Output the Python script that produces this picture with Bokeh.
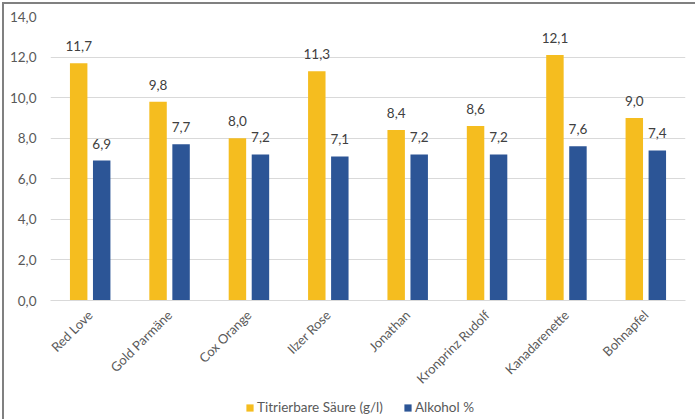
from bokeh.plotting import figure
from bokeh.layouts import column
from bokeh.models import ColumnDataSource, FactorRange, FixedTicker, Legend, LegendItem, Range1d
from bokeh.transform import dodge
from bokeh.core.properties import value
from bokeh.embed import file_html
from bokeh.resources import INLINE
import math

categories = ["Red Love", "Gold Parmäne", "Cox Orange", "Ilzer Rose", "Jonathan",
              "Kronprinz Rudolf", "Kanadarenette", "Bohnapfel"]
saeure = [11.7, 9.8, 8.0, 11.3, 8.4, 8.6, 12.1, 9.0]
alkohol = [6.9, 7.7, 7.2, 7.1, 7.2, 7.2, 7.6, 7.4]
y_ticks = [0, 2, 4, 6, 8, 10, 12, 14]
series_names = ["Titrierbare Säure (g/l)", "Alkohol %"]

def fmt(v):
    return f"{v:.1f}".replace(".", ",")

src = ColumnDataSource(dict(
    cat=categories, s=saeure, a=alkohol,
    sl=[fmt(v) for v in saeure], al=[fmt(v) for v in alkohol],
))

FONT = "Lato"
YELLOW = "#F5BD1F"
BLUE = "#2C5596"

p = figure(x_range=FactorRange(*categories), y_range=(0, 14),
           width=691, height=392, output_backend="svg", toolbar_location=None,
           min_border_left=46, min_border_right=10, min_border_top=12, min_border_bottom=96)
p.outline_line_color = None
p.background_fill_color = "white"
p.border_fill_color = "white"

r1 = p.vbar(x=dodge("cat", -0.145, range=p.x_range), top="s", width=0.22, source=src,
            fill_color=YELLOW, line_color=None)
r2 = p.vbar(x=dodge("cat", 0.145, range=p.x_range), top="a", width=0.22, source=src,
            fill_color=BLUE, line_color=None)

p.text(x=dodge("cat", -0.145, range=p.x_range), y="s", text="sl", source=src,
       text_align="center", text_baseline="middle", y_offset=-17,
       text_font=value(FONT), text_font_size="13.5px", text_color="#404040")
p.text(x=dodge("cat", 0.145, range=p.x_range), y="a", text="al", source=src,
       text_align="center", text_baseline="middle", y_offset=-17,
       text_font=value(FONT), text_font_size="13.5px", text_color="#404040")

p.yaxis.ticker = FixedTicker(ticks=y_ticks)
p.yaxis.major_label_overrides = {t: fmt(t) for t in y_ticks}
p.yaxis.axis_line_color = None
p.yaxis.major_tick_line_color = None
p.yaxis.minor_tick_line_color = None
p.yaxis.major_label_text_font = FONT
p.yaxis.major_label_text_font_size = "13.5px"
p.yaxis.major_label_text_color = "#595959"
p.yaxis.major_label_standoff = 8

p.xaxis.axis_line_color = "#d9d9d9"
p.xaxis.major_tick_line_color = None
p.xaxis.minor_tick_line_color = None
p.xaxis.major_label_orientation = math.pi / 4
p.xaxis.major_label_text_font = FONT
p.xaxis.major_label_text_font_size = "13px"
p.xaxis.major_label_text_color = "#595959"
p.xaxis.major_label_standoff = 6

p.xgrid.grid_line_color = None
p.ygrid.grid_line_color = "#d9d9d9"
p.ygrid.ticker = FixedTicker(ticks=y_ticks)

# legend strip below the chart (its frame is aligned with the chart's frame by the column)
lf = figure(width=691, height=23, output_backend="svg", toolbar_location=None,
            x_range=Range1d(0, 1), y_range=Range1d(10, 11),
            min_border_left=46, min_border_right=10, min_border_top=0, min_border_bottom=0)
lf.axis.visible = False
lf.grid.visible = False
lf.outline_line_color = None
lf.border_fill_color = "white"
# swatch renderers: one bar placed far outside the visible range
swatch = ColumnDataSource(dict(x=[0.5], top=[1]))
l1 = lf.vbar(x="x", top="top", width=0.1, source=swatch, fill_color=YELLOW, line_color=None)
l2 = lf.vbar(x="x", top="top", width=0.1, source=swatch, fill_color=BLUE, line_color=None)
legend = Legend(items=[LegendItem(label=series_names[0], renderers=[l1]),
                       LegendItem(label=series_names[1], renderers=[l2])],
                orientation="horizontal", location=(195, 4),
                glyph_width=9, glyph_height=9, label_standoff=3, spacing=20,
                padding=0, margin=0, border_line_color=None, background_fill_alpha=0,
                label_text_font=FONT, label_text_font_size="13.5px",
                label_text_color="#595959")
lf.add_layout(legend, "center")

layout = column(p, lf, spacing=0)
layout.styles = {"margin-left": "2px", "margin-top": "2px",
                 "border-top": "2px solid #808080", "border-left": "2px solid #808080"}

open("out.html", "w").write(file_html(layout, INLINE))
